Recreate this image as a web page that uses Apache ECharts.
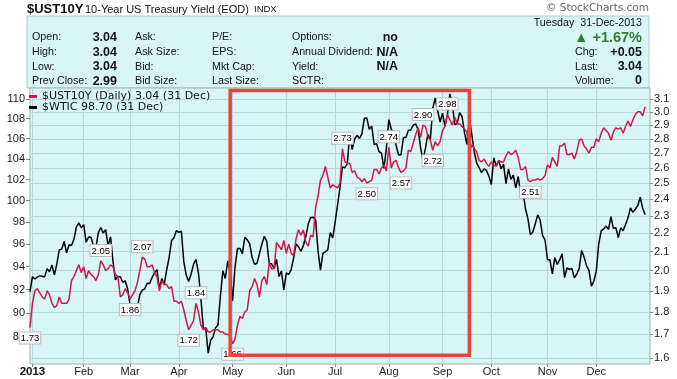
<!DOCTYPE html>
<html>
<head>
<meta charset="utf-8">
<script src="https://cdn.jsdelivr.net/npm/echarts@6/dist/echarts.min.js"></script>
<style>html,body{margin:0;padding:0;background:#fff}#chart{width:677px;height:379px}</style>
</head>
<body>
<div id="chart"></div>
<script>
// ---------------- DATA ----------------
// NYSE holidays of 2013 (non trading days)
const holidays2013 = ['2013-01-01','2013-01-21','2013-02-18','2013-03-29','2013-05-27','2013-07-04','2013-09-02','2013-11-28','2013-12-25'];
const firstDate = '2012-12-31';
const padDates = ['2014-01-02','2014-01-03'];

// $UST10Y daily close (%), 31 Dec 2012 then every 2013 trading day
const ust10y = [
  1.73,
  1.84,1.90,1.91,1.89,1.87,1.86,1.90,1.88,1.84,1.82,1.83,1.87,1.84,1.84,1.84,1.86,1.95,1.97,2.00,2.03,1.99,
  2.02,1.96,2.00,1.98,1.97,1.95,1.98,2.05,2.03,2.00,2.01,2.03,2.02,1.98,1.97,1.87,1.88,1.91,1.89,
  1.86,1.88,1.90,1.94,2.00,2.07,2.06,2.02,2.02,2.03,1.99,1.97,1.90,1.95,1.93,1.93,1.91,1.92,1.85,1.85,
  1.84,1.85,1.81,1.76,1.72,1.74,1.76,1.84,1.80,1.74,1.72,1.73,1.71,1.71,1.72,1.72,1.72,1.71,1.71,1.70,1.70,1.69,
  1.66,1.68,1.74,1.78,1.77,1.80,1.81,1.90,1.92,1.96,1.93,1.87,1.95,1.97,1.93,2.04,2.01,2.01,2.15,2.13,2.11,2.16,
  2.09,2.14,2.09,2.08,2.17,2.22,2.19,2.22,2.15,2.13,2.19,2.18,2.35,2.42,2.52,2.55,2.61,2.54,2.47,2.49,
  2.48,2.47,2.50,2.73,2.64,2.63,2.63,2.57,2.58,2.54,2.53,2.51,2.53,2.50,2.51,2.52,2.59,2.59,2.56,2.60,2.62,2.58,
  2.74,2.60,2.64,2.65,2.60,2.57,2.58,2.60,2.72,2.71,2.77,2.83,2.88,2.81,2.90,2.89,2.82,2.79,2.72,2.78,2.75,2.78,
  2.86,2.89,2.98,2.94,2.90,2.96,2.91,2.91,2.89,2.87,2.85,2.70,2.76,2.73,2.71,2.65,2.64,2.66,2.63,2.61,
  2.64,2.62,2.61,2.65,2.64,2.64,2.68,2.71,2.69,2.70,2.72,2.67,2.59,2.59,2.61,2.52,2.51,2.52,2.52,2.53,2.52,2.53,2.55,
  2.62,2.60,2.67,2.64,2.61,2.75,2.75,2.77,2.69,2.69,2.70,2.66,2.71,2.79,2.80,2.75,2.73,2.70,2.74,2.74,
  2.80,2.78,2.84,2.88,2.86,2.84,2.79,2.85,2.88,2.87,2.88,2.84,2.89,2.93,2.89,2.94,2.98,3.00,3.00,2.97,3.04
];

// $WTIC daily close ($), same dates
const wtic = [
  91.82,
  93.12,92.92,93.09,93.19,93.15,93.10,93.82,93.56,94.14,93.28,94.24,95.49,95.56,96.24,95.23,95.95,95.88,96.44,97.57,97.94,97.49,
  97.77,96.17,96.64,96.62,95.83,95.72,97.03,97.51,97.01,97.31,95.86,96.66,94.46,92.84,93.13,93.11,92.63,92.76,92.05,
  90.68,90.12,90.82,90.43,91.56,91.95,92.06,92.54,92.52,93.03,93.45,93.73,92.06,92.96,92.45,93.71,94.81,96.34,96.58,97.23,
  97.07,97.19,94.45,93.26,92.70,93.36,94.20,94.64,93.46,91.29,88.71,88.72,86.68,87.73,88.01,88.76,88.99,91.44,93.64,92.96,94.50,93.46,
  91.03,93.99,95.61,95.62,95.16,96.62,96.39,96.04,94.80,94.21,94.30,95.16,96.02,96.71,96.25,94.28,94.25,93.84,94.65,93.13,93.61,91.97,
  93.45,93.31,93.74,94.76,96.03,95.77,95.38,95.88,96.69,97.85,98.44,98.46,98.24,95.40,93.69,95.18,95.32,95.50,97.05,96.56,
  97.99,99.60,101.24,103.22,103.14,103.53,106.52,104.91,105.95,106.32,106.00,106.48,108.04,108.05,106.91,107.23,105.39,105.49,104.70,104.55,103.08,105.03,
  107.89,106.94,106.56,105.30,104.37,104.40,106.10,106.11,106.83,106.85,107.33,107.46,106.90,105.11,103.85,105.03,106.42,105.92,109.01,110.10,108.80,107.65,
  108.54,107.23,108.37,110.53,109.52,107.39,107.50,108.60,108.21,106.59,105.42,108.07,106.39,104.67,103.59,103.13,102.66,103.03,102.87,102.33,
  101.53,104.10,103.31,103.84,103.03,103.49,101.61,103.01,102.02,102.41,101.21,102.29,100.67,100.81,99.22,98.30,96.86,97.11,97.85,98.68,98.20,96.77,96.38,
  94.61,94.62,93.37,94.80,94.20,94.60,95.14,93.04,93.88,93.76,93.84,93.03,93.34,93.85,95.44,94.84,94.09,93.68,92.30,92.72,
  93.61,96.04,97.20,97.38,97.65,97.34,98.51,97.44,97.50,96.60,97.48,97.22,97.80,98.40,99.32,98.91,99.22,99.55,100.32,99.29,98.70
];

// axis ticks (log scaled axes)
const ustTicks = [1.6,1.7,1.8,1.9,2.0,2.1,2.2,2.3,2.4,2.5,2.6,2.7,2.8,2.9,3.0,3.1];
const wticTicks = [88,90,92,94,96,98,100,102,104,106,108,110];
const ustRange = [1.576, 3.188];
const wticRange = [85.8, 111.14];
const monthLabels = ['2013','Feb','Mar','Apr','May','Jun','Jul','Aug','Sep','Oct','Nov','Dec'];

// peak / trough annotations on $UST10Y
const ustNotes = [
  ['2012-12-31','bottom'],['2013-02-12','top'],['2013-03-01','bottom'],['2013-03-08','top'],
  ['2013-04-05','bottom'],['2013-04-10','top'],['2013-05-01','bottom'],['2013-07-05','top'],
  ['2013-07-19','bottom'],['2013-08-01','top'],['2013-08-08','bottom'],['2013-08-21','top'],
  ['2013-08-27','bottom'],['2013-09-05','top'],['2013-10-23','bottom']
];
// highlighted period (red box), in $UST10Y units
const highlightDates = ['2013-04-30','2013-09-18'];
const highlightYield = [3.168, 1.612];

// header quote
const quoteLeft = [['Open:','3.04'],['High:','3.04'],['Low:','3.04'],['Prev Close:','2.99']];
const quoteCol2 = ['Ask:','Ask Size:','Bid:','Bid Size:'];
const quoteCol3 = ['P/E:','EPS:','Mkt Cap:','Last Size:'];
const quoteCol4 = [['Options:','no'],['Annual Dividend:','N/A'],['Yield:','N/A'],['SCTR:','']];
const quoteRight = [['Chg:','+0.05'],['Last:','3.04'],['Volume:','0']];

// ---------------- BUILD ----------------
const dates = [firstDate];
for (let d = new Date(Date.UTC(2013,0,1)); d.getUTCFullYear() === 2013; d.setUTCDate(d.getUTCDate()+1)) {
  const dow = d.getUTCDay();
  const s = d.toISOString().slice(0,10);
  if (dow !== 0 && dow !== 6 && holidays2013.indexOf(s) < 0) dates.push(s);
}
padDates.forEach(s => dates.push(s));

const isMonthStart = (i) => dates[i] && dates[i].slice(0,4) === '2013' &&
  (i === 0 || dates[i].slice(5,7) !== dates[i-1].slice(5,7));

const L = Math.log;
const noteMap = {};
ustNotes.forEach(n => noteMap[n[0]] = n[1]);

const ustName = '$UST10Y (Daily) ' + ust10y[ust10y.length-1].toFixed(2) + ' (31 Dec)';
const wticName = '$WTIC ' + wtic[wtic.length-1].toFixed(2) + ' (31 Dec)';

const RED = '#d2174a';
const GRIDC = '#b6d8d9';
const BG = '#d8f6f6';
const AX = '"Liberation Sans", Arial, sans-serif';

const ustData = ust10y.map((v,i) => {
  const pos = noteMap[dates[i]];
  return pos ? {value: L(v), label: {show: true, position: pos}} : L(v);
});

const g = [];
const txt = (x, y, text, font, align, fill) => g.push({
  type: 'text', x: x, y: y, silent: true,
  style: {text: text, font: font, textAlign: align || 'left', textVerticalAlign: 'middle', fill: fill || '#111'}
});
g.push({type:'rect', shape:{x:27, y:16, width:622, height:72}, style:{fill:BG, stroke:'#b9c6c6', lineWidth:1}, silent:true, z:-1});
txt(27, 9.5, '$UST10Y', 'bold 13px ' + AX);
txt(85, 9.5, '10-Year US Treasury Yield (EOD)', '11px ' + AX);
txt(254, 9.5, 'INDX', '9.5px ' + AX);
txt(649, 8, '\u00A9 StockCharts.com', '10.5px "DejaVu Sans", sans-serif', 'right', '#666');
const rowsY = [37.5, 52.5, 66.7, 81.5];
const LF = '10.7px ' + AX;
const VF = 'bold 12.5px ' + AX;
quoteLeft.forEach((r,i) => { txt(32, rowsY[i], r[0], LF); txt(117, rowsY[i], r[1], VF, 'right'); });
quoteCol2.forEach((r,i) => txt(135, rowsY[i], r, LF));
quoteCol3.forEach((r,i) => txt(212, rowsY[i], r, LF));
quoteCol4.forEach((r,i) => { txt(292, rowsY[i], r[0], LF); if (r[1]) txt(398, rowsY[i], r[1], VF, 'right'); });
txt(642, 23.3, 'Tuesday  31-Dec-2013', LF, 'right');
txt(642, 38.3, '\u25B2 +1.67%', 'bold 14.5px ' + AX, 'right', '#347a34');
const rightY = [52.5, 66.7, 80.8];
quoteRight.forEach((r,i) => { txt(575, rightY[i], r[0], LF); txt(642, rightY[i], r[1], VF, 'right'); });

const option = {
  animation: false,
  backgroundColor: '#ffffff',
  grid: {left: 30, right: 27, top: 88, bottom: 15, show: true, backgroundColor: BG, borderColor: '#9fb0b0', borderWidth: 1, containLabel: false, outerBoundsMode: 'none'},
  legend: {
    orient: 'vertical', left: 29, top: 91, padding: 0, itemWidth: 8, itemHeight: 3, itemGap: 0, icon: 'rect',
    textStyle: {fontFamily: '"DejaVu Sans", sans-serif', fontSize: 11, color: '#111', lineHeight: 10},
    data: [ustName, wticName]
  },
  xAxis: {
    type: 'category', data: dates, boundaryGap: false,
    axisLine: {show: false},
    axisTick: {show: true, interval: isMonthStart, length: 3, lineStyle: {color: '#888'}},
    axisLabel: {
      interval: isMonthStart, margin: 2, color: '#222', fontFamily: AX, fontSize: 11,
      formatter: (v) => { const m = parseInt(v.slice(5,7),10) - 1; return m === 0 ? '{b|' + monthLabels[0] + '}' : monthLabels[m]; },
      rich: {b: {fontWeight: 'bold', fontFamily: AX, fontSize: 11.5, color: '#111'}}
    },
    splitLine: {show: true, interval: isMonthStart, lineStyle: {color: GRIDC, width: 1}}
  },
  yAxis: [
    {
      type: 'value', position: 'right', min: L(ustRange[0]), max: L(ustRange[1]),
      axisLine: {show: false},
      axisTick: {show: true, customValues: ustTicks.map(L), length: 3, lineStyle: {color: '#888'}},
      axisLabel: {customValues: ustTicks.map(L), formatter: (v) => Math.exp(v).toFixed(1), margin: 4, color: '#222', fontFamily: AX, fontSize: 11},
      splitLine: {show: true, lineStyle: {color: GRIDC, width: 1}}
    },
    {
      type: 'value', position: 'left', min: L(wticRange[0]), max: L(wticRange[1]),
      axisLine: {show: false},
      axisTick: {show: true, customValues: wticTicks.map(L), length: 4, lineStyle: {color: '#888'}},
      axisLabel: {customValues: wticTicks.map(L), formatter: (v) => Math.round(Math.exp(v)).toString(), margin: 5, color: '#222', fontFamily: AX, fontSize: 11},
      splitLine: {show: false}
    }
  ],
  series: [
    {
      name: ustName, type: 'line', yAxisIndex: 0, data: ustData,
      symbol: 'circle', symbolSize: 0, showSymbol: true, showAllSymbol: true,
      lineStyle: {color: RED, width: 1.5}, itemStyle: {color: RED},
      emphasis: {disabled: true},
      label: {
        show: false, formatter: (p) => ust10y[p.dataIndex].toFixed(2),
        backgroundColor: '#ffffff', borderColor: '#bbbbbb', borderWidth: 1, padding: [1,1,0,1],
        fontFamily: AX, fontSize: 9.5, color: '#000', distance: 5
      },
      markArea: {
        silent: true, z: 10,
        itemStyle: {color: 'rgba(0,0,0,0)', borderColor: '#e8433e', borderWidth: 3.5},
        label: {show: false},
        data: [[{xAxis: highlightDates[0], yAxis: L(highlightYield[0])}, {xAxis: highlightDates[1], yAxis: L(highlightYield[1])}]]
      },
      z: 3
    },
    {
      name: wticName, type: 'line', yAxisIndex: 1, data: wtic.map(L),
      symbol: 'none', showSymbol: false,
      lineStyle: {color: '#000', width: 1.5}, itemStyle: {color: '#000'},
      emphasis: {disabled: true},
      z: 2
    }
  ],
  graphic: g
};

const chart = echarts.init(document.getElementById('chart'), null, {renderer: 'canvas'});
chart.setOption(option);
</script>
</body>
</html>
